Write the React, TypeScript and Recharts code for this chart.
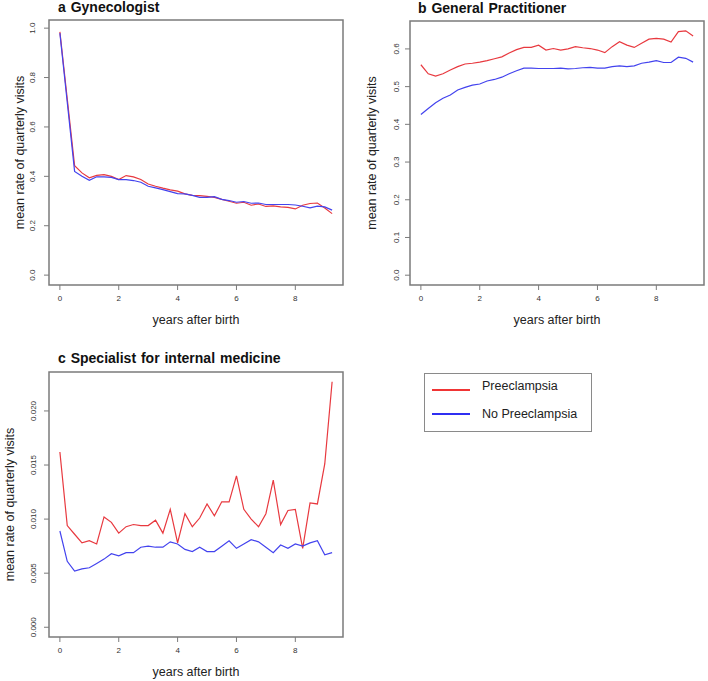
import React from "react";
import { LineChart, Line, XAxis, YAxis, ReferenceArea } from "recharts";

// quarterly time points, years after birth
const years = [
  0, 0.25, 0.5, 0.75, 1, 1.25, 1.5, 1.75, 2, 2.25, 2.5, 2.75, 3, 3.25, 3.5, 3.75, 4, 4.25, 4.5,
  4.75, 5, 5.25, 5.5, 5.75, 6, 6.25, 6.5, 6.75, 7, 7.25, 7.5, 7.75, 8, 8.25, 8.5, 8.75, 9, 9.25,
];

// a Gynecologist
const gynPre = [
  0.985, 0.714, 0.443, 0.414, 0.394, 0.404, 0.407, 0.4, 0.387, 0.403, 0.398, 0.387, 0.369, 0.36,
  0.352, 0.345, 0.34, 0.329, 0.323, 0.322, 0.319, 0.315, 0.307, 0.299, 0.291, 0.295, 0.283, 0.288,
  0.278, 0.28, 0.276, 0.274, 0.268, 0.283, 0.29, 0.292, 0.272, 0.249,
];
const gynNo = [
  0.98, 0.7, 0.42, 0.4, 0.384, 0.398, 0.398, 0.396, 0.387, 0.387, 0.383, 0.376, 0.36, 0.353,
  0.346, 0.338, 0.33, 0.329, 0.323, 0.315, 0.315, 0.318, 0.307, 0.302, 0.295, 0.298, 0.291, 0.292,
  0.286, 0.286, 0.286, 0.286, 0.284, 0.279, 0.272, 0.279, 0.276, 0.263,
];

// b General Practitioner
const gpPre = [
  0.558, 0.534, 0.528, 0.534, 0.544, 0.553, 0.56, 0.562, 0.565, 0.569, 0.574, 0.579, 0.589, 0.598,
  0.604, 0.604, 0.61, 0.597, 0.601, 0.597, 0.6, 0.606, 0.603, 0.601, 0.597, 0.59, 0.606, 0.619,
  0.61, 0.604, 0.615, 0.626, 0.628, 0.626, 0.618, 0.646, 0.648, 0.634,
];
const gpNo = [
  0.426, 0.442, 0.457, 0.469, 0.478, 0.491, 0.498, 0.504, 0.507, 0.515, 0.519, 0.525, 0.534, 0.542,
  0.549, 0.549, 0.548, 0.548, 0.548, 0.549, 0.547, 0.548, 0.55, 0.551, 0.549, 0.549, 0.553, 0.555,
  0.553, 0.555, 0.562, 0.565, 0.569, 0.564, 0.564, 0.578, 0.575, 0.565,
];

// c Specialist for internal medicine
const intPre = [
  0.0162, 0.0094, 0.0086, 0.0078, 0.008, 0.0077, 0.0102, 0.0097, 0.0087, 0.0093, 0.0095, 0.0094,
  0.0094, 0.0099, 0.0087, 0.0109, 0.0078, 0.0105, 0.0093, 0.0101, 0.0114, 0.0103, 0.0116, 0.0116,
  0.014, 0.0109, 0.01, 0.0093, 0.0105, 0.0136, 0.0095, 0.0108, 0.0109, 0.0073, 0.0115, 0.0114,
  0.0151, 0.0227,
];
const intNo = [
  0.0089, 0.0061, 0.0052, 0.0054, 0.0055, 0.0059, 0.0063, 0.0068, 0.0066, 0.0069, 0.0069, 0.0074,
  0.0075, 0.0074, 0.0074, 0.0079, 0.0077, 0.0072, 0.007, 0.0074, 0.007, 0.007, 0.0075, 0.008,
  0.0073, 0.0077, 0.0081, 0.0079, 0.0074, 0.0069, 0.0076, 0.0073, 0.0077, 0.0075, 0.0078, 0.008,
  0.0067, 0.0069,
];

const xTicks = [0, 2, 4, 6, 8];
const gynTicks = [0, 0.2, 0.4, 0.6, 0.8, 1.0];
const gpTicks = [0, 0.1, 0.2, 0.3, 0.4, 0.5, 0.6];
const intTicks = [0, 0.005, 0.01, 0.015, 0.02];

const xDomain = [-0.37, 9.62];
const RED = "#e8393f";
const BLUE = "#4343ee";
const BOX = "#7b7b7b";
const FONT = "'Liberation Sans', Arial, sans-serif";

const build = (pre: number[], no: number[]) =>
  years.map((t, i) => ({ t, pre: pre[i], no: no[i] }));

const Panel = ({
  title,
  left,
  top,
  width,
  height,
  marginTop,
  marginRight,
  yWidth,
  xHeight,
  data,
  yDomain,
  yTicks,
  digits,
  tickGap,
  yTitleX,
  titleBase,
  titleX,
}: any) => {
  const yTick = (p: any) => {
    const cx = p.x - tickGap;
    return (
      <text
        x={cx}
        y={p.y}
        dy="0.35em"
        transform={`rotate(-90 ${cx} ${p.y})`}
        textAnchor="middle"
        fontSize={8}
        fill="#333"
        fontFamily={FONT}
      >
        {Number(p.payload.value).toFixed(digits)}
      </text>
    );
  };

  return (
    <div style={{ position: "absolute", left, top, width, height }}>
      <div
        style={{
          position: "absolute",
          left: titleX,
          top: titleBase - 12.9,
          fontFamily: FONT,
          fontWeight: "bold",
          fontSize: 14,
          lineHeight: "16px",
          color: "#111",
          whiteSpace: "nowrap",
          wordSpacing: 1,
        }}
      >
        {title}
      </div>
      <LineChart
        width={width}
        height={height}
        data={data}
        margin={{ top: marginTop, right: marginRight, bottom: 0, left: 0 }}
      >
        <XAxis
          dataKey="t"
          type="number"
          domain={xDomain}
          ticks={xTicks}
          interval={0}
          allowDataOverflow
          axisLine={false}
          tickLine={{ stroke: BOX }}
          tickSize={5}
          tickMargin={5}
          height={xHeight}
          tick={{ fontSize: 8, fill: "#333", fontFamily: FONT }}
          label={{
            content: (p: any) => {
              const vb = p.viewBox;
              return (
                <text
                  x={vb.x + vb.width / 2}
                  y={vb.y + 39}
                  textAnchor="middle"
                  fontSize={12.5}
                  fill="#222"
                  fontFamily={FONT}
                >
                  years after birth
                </text>
              );
            },
          }}
        />
        <YAxis
          type="number"
          domain={yDomain}
          ticks={yTicks}
          interval={0}
          allowDataOverflow
          axisLine={false}
          tickLine={{ stroke: BOX }}
          tickSize={5}
          width={yWidth}
          tick={yTick}
          label={{
            content: (p: any) => {
              const vb = p.viewBox;
              const cx = vb.x + yTitleX;
              const cy = vb.y + vb.height / 2;
              return (
                <text
                  x={cx}
                  y={cy}
                  dy="0.35em"
                  transform={`rotate(-90 ${cx} ${cy})`}
                  textAnchor="middle"
                  fontSize={12.5}
                  fill="#222"
                  fontFamily={FONT}
                >
                  mean rate of quarterly visits
                </text>
              );
            },
          }}
        />
        <ReferenceArea
          x1={xDomain[0]}
          x2={xDomain[1]}
          y1={yDomain[0]}
          y2={yDomain[1]}
          fill="none"
          stroke={BOX}
          strokeWidth={1.5}
          ifOverflow="visible"
        />
        <Line
          type="linear"
          dataKey="pre"
          stroke={RED}
          strokeWidth={1.2}
          dot={false}
          isAnimationActive={false}
        />
        <Line
          type="linear"
          dataKey="no"
          stroke={BLUE}
          strokeWidth={1.2}
          dot={false}
          isAnimationActive={false}
        />
      </LineChart>
    </div>
  );
};

const LegendBox = () => (
  <div
    style={{
      position: "absolute",
      left: 424,
      top: 373,
      width: 166,
      height: 57,
      border: "1px solid #8a8a8a",
      fontFamily: FONT,
      fontSize: 12.5,
      color: "#222",
    }}
  >
    {[
      { name: "Preeclampsia", color: "#f03535", line: 15, text: 4 },
      { name: "No Preeclampsia", color: "#2f2ff2", line: 39, text: 32 },
    ].map((s) => (
      <React.Fragment key={s.name}>
        <div
          style={{
            position: "absolute",
            left: 7,
            top: s.line,
            width: 38,
            height: 2,
            background: s.color,
          }}
        />
        <div style={{ position: "absolute", left: 57, top: s.text, lineHeight: "16px", whiteSpace: "nowrap" }}>
          {s.name}
        </div>
      </React.Fragment>
    ))}
  </div>
);

export default function App() {
  return (
    <div
      style={{
        position: "absolute",
        left: 0,
        top: 0,
        width: 708,
        height: 681,
        background: "#fff",
        overflow: "hidden",
      }}
    >
      <Panel
        title="a Gynecologist"
        left={0}
        top={0}
        width={354}
        height={340}
        marginTop={20}
        marginRight={11}
        yWidth={49}
        xHeight={55}
        data={build(gynPre, gynNo)}
        yDomain={[-0.04, 1.033]}
        yTicks={gynTicks}
        digits={1}
        tickGap={10}
        yTitleX={19.5}
        titleBase={11.5}
        titleX={58}
      />
      <Panel
        title="b General Practitioner"
        left={354}
        top={0}
        width={354}
        height={340}
        marginTop={21}
        marginRight={4}
        yWidth={56}
        xHeight={55}
        data={build(gpPre, gpNo)}
        yDomain={[-0.026, 0.674]}
        yTicks={gpTicks}
        digits={1}
        tickGap={7}
        yTitleX={18}
        titleBase={12.5}
        titleX={64}
      />
      <Panel
        title="c Specialist for internal medicine"
        left={0}
        top={340}
        width={354}
        height={341}
        marginTop={32}
        marginRight={11}
        yWidth={49}
        xHeight={44}
        data={build(intPre, intNo)}
        yDomain={[-0.0009, 0.0236]}
        yTicks={intTicks}
        digits={3}
        tickGap={9}
        yTitleX={10}
        titleBase={23}
        titleX={58}
      />
      <LegendBox />
    </div>
  );
}
